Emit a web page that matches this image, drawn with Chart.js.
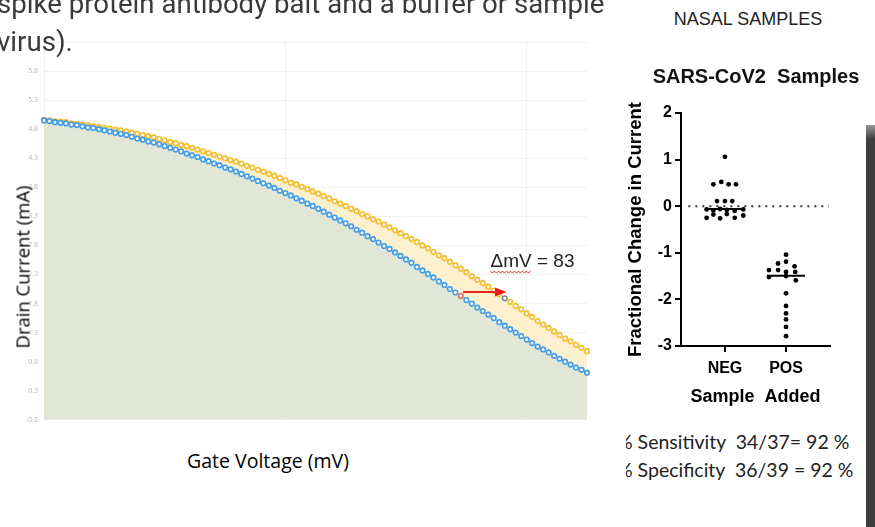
<!DOCTYPE html>
<html>
<head>
<meta charset="utf-8">
<script src="https://cdn.jsdelivr.net/npm/chart.js@4.4.1/dist/chart.umd.min.js"></script>
<style>
  html, body { margin: 0; padding: 0; }
  body { width: 875px; height: 527px; position: relative; overflow: hidden; background: #fff; }
  .abs { position: absolute; white-space: pre; z-index: 2; }
  #slideText { left: -3px; top: -15px; font: 27.6px/38px Roboto, sans-serif; color: #3a3a3a; }
  #ivCanvas { position: absolute; left: 0; top: 30px; }
  #scatterCanvas { position: absolute; left: 620px; top: 60px; }
  .axisTitle { font-family: "Open Sans", sans-serif; color: #000; }
  #yTitle { left: 22px; top: 267px; font-size: 18.5px; transform: translate(-50%, -50%) rotate(-90deg); }
  #xTitle { left: 268px; top: 460px; font-size: 19.5px; transform: translate(-50%, -50%); }
  #nasal { left: 748px; top: 19px; transform: translate(-50%, -50%); font: 18px "Liberation Sans Narrow", sans-serif; color: #222; }
  #scTitle { left: 756px; top: 76px; transform: translate(-50%, -50%); font: bold 20px "Liberation Sans", Arial, sans-serif; color: #111; }
  #stats { left: 626px; top: 428px; width: 238px; overflow: hidden; font: 19.5px/28px Lato, sans-serif; color: #222; }
  #stats div { margin-left: -9px; }
  #sideBar { position: absolute; left: 866px; top: 125px; width: 9px; height: 402px;
    background: linear-gradient(#9a9a9a, #3d3d3d 14px, #3d3d3d); }
</style>
</head>
<body>
<div id="slideText" class="abs">spike protein antibody bait and a buffer or sample
virus).</div>
<canvas id="ivCanvas" width="600" height="400"></canvas>
<div id="yTitle" class="abs axisTitle">Drain Current (mA)</div>
<div id="xTitle" class="abs axisTitle">Gate Voltage (mV)</div>

<div id="nasal" class="abs">NASAL SAMPLES</div>
<div id="scTitle" class="abs">SARS-CoV2  Samples</div>
<canvas id="scatterCanvas" width="215" height="360"></canvas>
<div id="stats" class="abs"><div>% Sensitivity  34/37= 92 %</div><div>% Specificity  36/39 = 92 %</div></div>
<div id="sideBar"></div>

<script>
// --- transfer curves (gate voltage in mV, drain current in mA)
const gateVoltage = [
  0, 10, 20, 30, 40, 50, 60, 70, 80, 90, 100, 110, 120, 130, 140, 150, 160, 170, 180, 190,
  200, 210, 220, 230, 240, 250, 260, 270, 280, 290, 300, 310, 320, 330, 340, 350, 360, 370, 380, 390,
  400, 410, 420, 430, 440, 450, 460, 470, 480, 490, 500, 510, 520, 530, 540, 550, 560, 570, 580, 590,
  600, 610, 620, 630, 640, 650, 660, 670, 680, 690, 700, 710, 720, 730, 740, 750, 760, 770, 780, 790,
  800, 810, 820, 830, 840, 850, 860, 870, 880, 890, 900, 910, 920, 930, 940, 950, 960, 970, 980, 990
];
const bufferCurrent = [
  4.95, 4.94, 4.92, 4.91, 4.90, 4.88, 4.87, 4.85, 4.83, 4.82, 4.80, 4.78, 4.76, 4.74, 4.72, 4.70, 4.67, 4.64, 4.62, 4.59,
  4.57, 4.54, 4.51, 4.48, 4.45, 4.42, 4.38, 4.35, 4.32, 4.28, 4.25, 4.21, 4.18, 4.14, 4.11, 4.07, 4.03, 3.99, 3.95, 3.91,
  3.87, 3.83, 3.79, 3.74, 3.70, 3.66, 3.61, 3.57, 3.52, 3.48, 3.43, 3.38, 3.33, 3.28, 3.23, 3.18, 3.13, 3.07, 3.02, 2.96,
  2.91, 2.85, 2.79, 2.74, 2.68, 2.62, 2.56, 2.50, 2.43, 2.37, 2.31, 2.25, 2.18, 2.12, 2.05, 1.99, 1.93, 1.86, 1.80, 1.73,
  1.67, 1.61, 1.55, 1.48, 1.42, 1.36, 1.30, 1.24, 1.18, 1.12, 1.06, 1.01, 0.96, 0.90, 0.85, 0.80, 0.75, 0.70, 0.66, 0.61
];
const sampleCurrent = [
  4.96, 4.95, 4.94, 4.93, 4.92, 4.90, 4.89, 4.88, 4.87, 4.85, 4.84, 4.82, 4.81, 4.79, 4.78, 4.76, 4.74, 4.72, 4.70, 4.68,
  4.66, 4.63, 4.61, 4.58, 4.56, 4.53, 4.51, 4.48, 4.45, 4.42, 4.39, 4.36, 4.33, 4.30, 4.27, 4.24, 4.21, 4.17, 4.14, 4.10,
  4.07, 4.03, 4.00, 3.96, 3.92, 3.88, 3.85, 3.81, 3.77, 3.73, 3.69, 3.65, 3.61, 3.56, 3.52, 3.48, 3.43, 3.39, 3.34, 3.30,
  3.25, 3.21, 3.16, 3.11, 3.06, 3.01, 2.96, 2.91, 2.86, 2.80, 2.75, 2.69, 2.63, 2.58, 2.52, 2.46, 2.40, 2.34, 2.27, 2.21,
  2.15, 2.09, 2.02, 1.96, 1.89, 1.83, 1.76, 1.70, 1.63, 1.57, 1.50, 1.44, 1.38, 1.32, 1.26, 1.20, 1.15, 1.09, 1.04, 0.98
];
const currentTicks = [-0.2, 0.3, 0.8, 1.3, 1.8, 2.3, 2.8, 3.3, 3.8, 4.3, 4.8, 5.3, 5.8, 6.3];
const voltageTicks = [0, 440, 880];

// marked points and the shift annotation
const markedBufferIndex = 76;
const markedSampleIndex = 84;
const shiftFrom = [764, 2.0];
const shiftTo = [844, 2.0];
const shiftText = "\u0394mV = 83";
const shiftTextAt = [814, 2.52];

// --- nasal sample scatter
const groups = ["NEG", "POS"];
const negValues = [1.06, 0.47, 0.52, 0.47, 0.47, 0.11, 0.11, 0.11,
  -0.07, -0.09, -0.06, -0.08, -0.10, -0.07, -0.25, -0.18, -0.26, -0.17, -0.25, -0.20];
const negJitter = [0, -0.19, -0.06, 0.06, 0.18, -0.13, 0, 0.12,
  -0.30, -0.19, -0.08, 0.03, 0.16, 0.30, -0.30, -0.19, -0.08, 0.03, 0.16, 0.30];
const posValues = [-1.04, -1.23, -1.19, -1.29, -1.37, -1.37, -1.41, -1.41, -1.52, -1.50, -1.59,
  -1.87, -2.14, -2.30, -2.43, -2.59, -2.79];
const posJitter = [0, -0.13, 0, 0.14, -0.28, -0.13, 0, 0.15, -0.28, 0, 0.16,
  0, 0, 0, 0, 0, 0];
const medians = [-0.06, -1.49];

const BLUE = "#3f9ce8";
const YELLOW = "#f4bd2c";

const shiftNote = {
  id: "shiftNote",
  afterDatasetsDraw(chart) {
    const { ctx, scales: { x, y } } = chart;
    const x1 = x.getPixelForValue(shiftFrom[0]);
    const x2 = x.getPixelForValue(shiftTo[0]);
    const ya = y.getPixelForValue(shiftFrom[1]);
    ctx.save();
    ctx.strokeStyle = "#e8211c";
    ctx.fillStyle = "#e8211c";
    ctx.lineWidth = 2;
    ctx.beginPath();
    ctx.moveTo(x1, ya);
    ctx.lineTo(x2 - 10, ya);
    ctx.stroke();
    ctx.beginPath();
    ctx.moveTo(x2, ya);
    ctx.lineTo(x2 - 12, ya - 4.5);
    ctx.lineTo(x2 - 12, ya + 4.5);
    ctx.closePath();
    ctx.fill();

    const tx = x.getPixelForValue(shiftTextAt[0]);
    const ty = y.getPixelForValue(shiftTextAt[1]);
    ctx.font = '19px "Liberation Sans", Arial, sans-serif';
    ctx.fillStyle = "#222";
    ctx.textBaseline = "middle";
    ctx.fillText(shiftText, tx, ty);
    // spell-check squiggle under the delta word
    const w = ctx.measureText(shiftText.split(" ")[0]).width;
    ctx.strokeStyle = "#e8211c";
    ctx.lineWidth = 1;
    ctx.beginPath();
    for (let px = 0; px <= w; px += 2) {
      const py = ty + 10 + (Math.round(px / 2) % 2 ? 1.4 : -0.6);
      px === 0 ? ctx.moveTo(tx + px, py) : ctx.lineTo(tx + px, py);
    }
    ctx.stroke();
    ctx.restore();
  }
};

const faint = "rgba(0,0,0,0.05)";

new Chart(document.getElementById("ivCanvas"), {
  type: "line",
  data: {
    labels: gateVoltage,
    datasets: [
      {
        data: bufferCurrent,
        showLine: false,
        fill: "start",
        backgroundColor: "#e1e6d6",
        pointRadius: 2.3,
        pointBorderWidth: 1.6,
        pointBackgroundColor: "#fff",
        pointBorderColor: (c) => (c.dataIndex === markedBufferIndex ? "#e06a6a" : BLUE),
        clip: 6
      },
      {
        data: sampleCurrent,
        showLine: false,
        fill: "-1",
        backgroundColor: "#fcf0cf",
        pointRadius: 2.3,
        pointBorderWidth: 1.6,
        pointBackgroundColor: "#fff",
        pointBorderColor: (c) => (c.dataIndex === markedSampleIndex ? "#7d8b8a" : YELLOW),
        clip: 6
      }
    ]
  },
  options: {
    responsive: false,
    animation: false,
    layout: { padding: { left: 0, top: 12, right: 13, bottom: 0 } },
    plugins: { legend: { display: false }, tooltip: { enabled: false } },
    scales: {
      x: {
        type: "linear",
        min: gateVoltage[0],
        max: gateVoltage[gateVoltage.length - 1],
        afterBuildTicks: (s) => { s.ticks = voltageTicks.map((v) => ({ value: v })); },
        afterFit: (s) => { s.height = 9; },
        ticks: { display: false },
        grid: { color: faint, drawTicks: false },
        border: { display: false }
      },
      y: {
        min: currentTicks[0],
        max: currentTicks[currentTicks.length - 1],
        afterBuildTicks: (s) => { s.ticks = currentTicks.map((v) => ({ value: v })); },
        afterFit: (s) => { s.width = 44; },
        ticks: {
          padding: 6,
          color: "#b4b4b4",
          font: { size: 7, family: "'Open Sans', sans-serif" },
          callback: (v) => (v === currentTicks[currentTicks.length - 1] ? "" : v.toFixed(1))
        },
        grid: { color: faint, drawTicks: false },
        border: { display: false }
      }
    }
  },
  plugins: [shiftNote]
});

// scatter
const negPoints = negValues.map((v, i) => ({ x: 1 + negJitter[i], y: v }));
const posPoints = posValues.map((v, i) => ({ x: 2 + posJitter[i], y: v }));
const medianHalf = 0.31;

const dotStyle = {
  type: "scatter",
  pointRadius: 2.4,
  pointBackgroundColor: "#000",
  pointBorderWidth: 0,
  clip: false
};
const bold = { family: "'Liberation Sans', Arial, sans-serif", weight: "bold" };

new Chart(document.getElementById("scatterCanvas"), {
  type: "scatter",
  data: {
    datasets: [
      {
        type: "line",
        data: [{ x: 0.4, y: 0 }, { x: 2.7, y: 0 }],
        borderColor: "#333",
        borderWidth: 2,
        borderDash: [2, 5],
        pointRadius: 0
      },
      { ...dotStyle, data: negPoints },
      { ...dotStyle, data: posPoints },
      {
        type: "line",
        data: [{ x: 1 - medianHalf, y: medians[0] }, { x: 1 + medianHalf, y: medians[0] }],
        borderColor: "#000",
        borderWidth: 2,
        pointRadius: 0
      },
      {
        type: "line",
        data: [{ x: 2 - medianHalf, y: medians[1] }, { x: 2 + medianHalf, y: medians[1] }],
        borderColor: "#000",
        borderWidth: 2,
        pointRadius: 0
      }
    ]
  },
  options: {
    responsive: false,
    animation: false,
    layout: { padding: { left: 0, top: 53, right: 5, bottom: 0 } },
    plugins: { legend: { display: false }, tooltip: { enabled: false } },
    scales: {
      x: {
        type: "linear",
        min: 0.28,
        max: 2.72,
        afterBuildTicks: (s) => { s.ticks = groups.map((g, i) => ({ value: i + 1 })); },
        afterFit: (s) => { s.height = 74; },
        ticks: {
          color: "#000",
          padding: 7,
          font: { ...bold, size: 16 },
          callback: (v) => groups[v - 1]
        },
        grid: { drawOnChartArea: false, drawTicks: true, tickLength: 6, color: "#000", lineWidth: 2 },
        border: { display: true, color: "#000", width: 2 },
        title: {
          display: true,
          text: "Sample  Added",
          color: "#000",
          font: { ...bold, size: 18 },
          padding: { top: 0, bottom: 12 }
        }
      },
      y: {
        min: -3,
        max: 2,
        ticks: { stepSize: 1, color: "#000", padding: 3, font: { ...bold, size: 16 } },
        afterFit: (s) => { s.width = 61; },
        grid: { drawOnChartArea: false, drawTicks: true, tickLength: 6, color: "#000", lineWidth: 2 },
        border: { display: true, color: "#000", width: 2 },
        title: {
          display: true,
          text: "Fractional Change in Current",
          color: "#000",
          font: { ...bold, size: 18.5 },
          padding: { top: 5, bottom: 0 }
        }
      }
    }
  }
});
</script>
</body>
</html>
